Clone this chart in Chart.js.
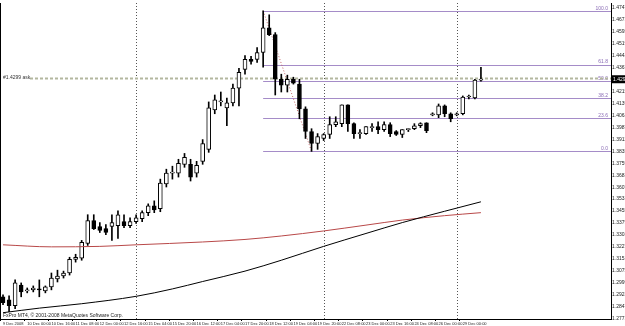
<!DOCTYPE html>
<html>
<head>
<meta charset="utf-8">
<script src="https://cdn.jsdelivr.net/npm/chart.js@4.4.0/dist/chart.umd.min.js"></script>
<style>
  html, body { margin: 0; padding: 0; background: #fff; }
  #wrap { width: 625px; height: 326px; }
</style>
</head>
<body>
<div id="wrap"><canvas id="chart-eur" width="625" height="326"></canvas></div>
<script>
// EURUSD H4, 9 Dec - 29 Dec 2008

// rotulos de tempo (um a cada 4 barras)
const timeLabels = ['9 Dec 2008', '10 Dec 00:00', '10 Dec 16:00', '11 Dec 08:00', '12 Dec 00:00',
  '12 Dec 16:00', '15 Dec 04:00', '15 Dec 20:00', '16 Dec 12:00', '17 Dec 04:00',
  '17 Dec 20:00', '18 Dec 12:00', '19 Dec 04:00', '19 Dec 20:00', '22 Dec 08:00',
  '23 Dec 00:00', '23 Dec 16:00', '24 Dec 08:00', '26 Dec 00:00', '29 Dec 00:00'];

const opens = [1.2911,1.2892,1.2854,1.2986,1.2948,1.2955,1.2961,1.2948,1.2974,1.3024,
  1.3043,1.3062,1.3149,1.3156,1.3250,1.3394,1.3357,1.3344,1.3357,1.3363,
  1.3388,1.3363,1.3388,1.3407,1.3445,1.3489,1.3470,1.3627,1.3696,1.3696,
  1.3752,1.3752,1.3696,1.3771,1.3847,1.4098,1.4148,1.4110,1.4142,1.4236,
  1.4355,1.4418,1.4418,1.4462,1.4619,1.4575,1.4292,1.4255,1.4292,1.4261,
  1.4104,1.3960,1.3884,1.3916,1.3941,1.4004,1.4010,1.4129,1.4010,1.3947,
  1.3947,1.3985,1.3991,1.3972,1.4004,1.3960,1.3941,1.3972,1.3978,1.3997,
  1.4016,1.4066,1.4066,1.4123,1.4073,1.4066,1.4073,1.4179,1.4173,1.4286];

const highs = [1.2923,1.2917,1.3018,1.2999,1.2967,1.2980,1.3018,1.2980,1.3062,1.3080,
  1.3074,1.3162,1.3181,1.3269,1.3432,1.3432,1.3382,1.3369,1.3432,1.3457,
  1.3432,1.3413,1.3432,1.3457,1.3501,1.3520,1.3658,1.3721,1.3740,1.3784,
  1.3821,1.3784,1.3771,1.3909,1.4148,1.4192,1.4211,1.4173,1.4261,1.4361,
  1.4443,1.4437,1.4493,1.4726,1.4701,1.4588,1.4324,1.4318,1.4305,1.4292,
  1.4117,1.3978,1.3947,1.3947,1.4054,1.4054,1.4129,1.4129,1.4016,1.3972,
  1.3991,1.4010,1.4022,1.4022,1.4016,1.3966,1.3972,1.3978,1.4010,1.4016,
  1.4016,1.4079,1.4135,1.4129,1.4079,1.4079,1.4186,1.4192,1.4292,1.4368];

const lows = [1.2861,1.2817,1.2835,1.2911,1.2936,1.2942,1.2911,1.2936,1.2955,1.3005,
  1.3030,1.3049,1.3131,1.3143,1.3237,1.3338,1.3319,1.3306,1.3269,1.3281,
  1.3350,1.3350,1.3376,1.3388,1.3426,1.3445,1.3451,1.3608,1.3658,1.3671,
  1.3733,1.3646,1.3671,1.3752,1.3828,1.4073,1.4123,1.3997,1.4123,1.4123,
  1.4324,1.4387,1.4399,1.4368,1.4569,1.4192,1.4211,1.4211,1.4261,1.4041,
  1.3916,1.3834,1.3847,1.3903,1.3916,1.3991,1.3991,1.3960,1.3916,1.3916,
  1.3941,1.3960,1.3947,1.3960,1.3928,1.3935,1.3922,1.3960,1.3972,1.3985,
  1.3953,1.4060,1.4048,1.4054,1.4022,1.4060,1.4066,1.4167,1.4167,1.4280];

const closes = [1.2873,1.2854,1.2999,1.2942,1.2955,1.2967,1.2955,1.2974,1.3030,1.3043,
  1.3062,1.3149,1.3162,1.3256,1.3394,1.3344,1.3332,1.3319,1.3382,1.3432,
  1.3363,1.3388,1.3413,1.3445,1.3489,1.3463,1.3633,1.3696,1.3702,1.3759,
  1.3796,1.3671,1.3746,1.3884,1.4110,1.4161,1.4154,1.4142,1.4236,1.4336,
  1.4418,1.4405,1.4462,1.4619,1.4575,1.4292,1.4255,1.4292,1.4267,1.4104,
  1.3960,1.3884,1.3928,1.3941,1.4004,1.4022,1.4129,1.4010,1.3947,1.3947,
  1.3991,1.3991,1.3972,1.4004,1.3947,1.3941,1.3972,1.3973,1.3997,1.4010,
  1.3966,1.4073,1.4123,1.4073,1.4041,1.4073,1.4179,1.4180,1.4286,1.4292];

// medias moveis (pontos lidos em algumas barras)
const slowMaBars = [0, 6, 13, 22, 28, 33, 40, 46, 53, 60, 66, 73, 79];
const slowMaValues = [1.2810, 1.2839, 1.2867, 1.2914, 1.2961, 1.3008, 1.3074, 1.3143, 1.3231, 1.3313, 1.3382, 1.3454, 1.3514];
const fastMaBars = [0, 8, 16, 22, 33, 40, 46, 53, 60, 66, 73, 79];
const fastMaValues = [1.3241, 1.3228, 1.3231, 1.3241, 1.3259, 1.3275, 1.3297, 1.3329, 1.3366, 1.3398, 1.3426, 1.3445];

// eixo de precos
const priceTicks = [1.4747, 1.4671, 1.4595, 1.4519, 1.4443, 1.4367, 1.4291, 1.4215, 1.4139,
  1.4063, 1.3987, 1.3911, 1.3835, 1.3759, 1.3683, 1.3607, 1.3531, 1.3455, 1.3379,
  1.3303, 1.3227, 1.3151, 1.3075, 1.2999, 1.2923, 1.2847, 1.2771];

// fibonacci: da maxima (barra 43) ate a minima (barra 51)
const fibHighBar = 43;
const fibLowBar = 51;
const fibLevels = [0, 23.6, 38.2, 50, 61.8, 100];
const separatorBars = [22, 53, 75];
const askPrice = 1.4299;

const TOTAL_SLOTS = 101;
const barCount = closes.length;
const categories = Array.from({ length: TOTAL_SLOTS }, (_, i) => i);

const bodies = [], wicks = [], bodyColors = [];
for (let i = 0; i < barCount; i++) {
    bodies.push([opens[i], closes[i]]);
    wicks.push([lows[i], highs[i]]);
    bodyColors.push(closes[i] >= opens[i] ? '#ffffff' : '#000000');
}

function sparseSeries(bars, values) {
    const arr = new Array(TOTAL_SLOTS).fill(null);
    bars.forEach((b, k) => { arr[b] = values[k]; });
    return arr;
}

const fibHigh = highs[fibHighBar];
const fibLow = lows[fibLowBar];

const overlayPlugin = {
    id: 'mt4Overlay',
    beforeDatasetsDraw(chart) {
        const { ctx, chartArea, scales } = chart;
        const xs = scales.x, ys = scales.y;
        ctx.save();
        // separadores de periodo
        ctx.strokeStyle = '#555';
        ctx.lineWidth = 1;
        ctx.setLineDash([1, 2]);
        separatorBars.forEach(b => {
            const x = Math.round(xs.getPixelForValue(b)) + 0.5;
            ctx.beginPath();
            ctx.moveTo(x, chartArea.top);
            ctx.lineTo(x, chartArea.bottom);
            ctx.stroke();
        });
        // linhas de fibonacci
        ctx.setLineDash([]);
        ctx.strokeStyle = '#a58cc8';
        const xStart = xs.getPixelForValue(fibHighBar);
        fibLevels.forEach(lv => {
            const y = Math.round(ys.getPixelForValue(fibLow + (fibHigh - fibLow) * lv / 100)) + 0.5;
            ctx.beginPath();
            ctx.moveTo(xStart, y);
            ctx.lineTo(chartArea.right, y);
            ctx.stroke();
        });
        ctx.fillStyle = '#8a6bb5';
        ctx.font = '5px "Liberation Sans"';
        ctx.textAlign = 'right';
        ctx.textBaseline = 'bottom';
        fibLevels.forEach(lv => {
            const y = ys.getPixelForValue(fibLow + (fibHigh - fibLow) * lv / 100);
            ctx.fillText(lv.toFixed(1), chartArea.right - 3, y);
        });
        // diagonal pontilhada
        ctx.strokeStyle = '#c06060';
        ctx.setLineDash([1, 2]);
        ctx.beginPath();
        ctx.moveTo(xs.getPixelForValue(fibHighBar), ys.getPixelForValue(fibHigh));
        ctx.lineTo(xs.getPixelForValue(fibLowBar), ys.getPixelForValue(fibLow));
        ctx.stroke();
        // linha ask
        const ya = Math.round(ys.getPixelForValue(askPrice)) + 0.5;
        ctx.strokeStyle = '#b3b79f';
        ctx.lineWidth = 2;
        ctx.setLineDash([3, 2]);
        ctx.beginPath();
        ctx.moveTo(chartArea.left + 30, ya);
        ctx.lineTo(chartArea.right, ya);
        ctx.stroke();
        ctx.setLineDash([]);
        ctx.fillStyle = '#333';
        ctx.textAlign = 'left';
        ctx.textBaseline = 'middle';
        ctx.fillText('#' + askPrice.toFixed(4) + ' ask', chartArea.left + 3, ya - 1);
        ctx.restore();
    },
    afterDraw(chart) {
        const { ctx, chartArea, scales } = chart;
        const ys = scales.y;
        ctx.save();
        // borda esquerda
        ctx.strokeStyle = '#000';
        ctx.lineWidth = 1;
        ctx.beginPath();
        ctx.moveTo(chartArea.left + 0.5, chartArea.top);
        ctx.lineTo(chartArea.left + 0.5, chartArea.bottom);
        ctx.stroke();
        // preco atual
        const last = closes[barCount - 1];
        const y = ys.getPixelForValue(last);
        ctx.fillStyle = '#000';
        ctx.fillRect(chartArea.right + 1, y - 4, 20, 8);
        ctx.fillStyle = '#fff';
        ctx.font = '5px "Liberation Sans"';
        ctx.textAlign = 'left';
        ctx.textBaseline = 'middle';
        ctx.fillText(last.toFixed(4), chartArea.right + 2, y);
        // copyright
        ctx.fillStyle = '#222';
        ctx.font = '5px "Liberation Sans"';
        ctx.textBaseline = 'bottom';
        ctx.fillText('FxPro MT4, \u00a9 2001-2008 MetaQuotes Software Corp.', chartArea.left + 3, chartArea.bottom - 1);
        ctx.restore();
    }
};

new Chart(document.getElementById('chart-eur').getContext('2d'), {
    type: 'bar',
    data: {
        labels: categories,
        datasets: [
            {
                type: 'line',
                data: sparseSeries(slowMaBars, slowMaValues),
                borderColor: '#000',
                borderWidth: 1,
                pointRadius: 0,
                spanGaps: true,
                cubicInterpolationMode: 'monotone',
                order: 0
            },
            {
                type: 'line',
                data: sparseSeries(fastMaBars, fastMaValues),
                borderColor: '#b84848',
                borderWidth: 1,
                pointRadius: 0,
                spanGaps: true,
                cubicInterpolationMode: 'monotone',
                order: 0
            },
            {
                data: bodies,
                backgroundColor: bodyColors,
                borderColor: '#000',
                borderWidth: 1,
                borderSkipped: false,
                barThickness: 4,
                minBarLength: 1,
                grouped: false,
                order: 1
            },
            {
                data: wicks,
                backgroundColor: '#000',
                borderWidth: 0,
                barThickness: 1,
                grouped: false,
                order: 2
            }
        ]
    },
    options: {
        responsive: false,
        animation: false,
        devicePixelRatio: 1,
        layout: { padding: 0 },
        plugins: { legend: { display: false }, tooltip: { enabled: false } },
        scales: {
            x: {
                type: 'category',
                offset: true,
                grid: {
                    drawOnChartArea: false,
                    tickLength: 2,
                    color: c => (c.index % 4 === 0 && c.index / 4 < timeLabels.length) ? '#000' : 'rgba(0,0,0,0)'
                },
                border: { display: true, color: '#000' },
                ticks: {
                    autoSkip: false,
                    maxRotation: 0,
                    minRotation: 0,
                    align: 'start',
                    padding: 0,
                    color: '#222',
                    font: { size: 4, family: 'Liberation Sans' },
                    callback: (v, i) => (i % 4 === 0 && timeLabels[i / 4]) ? timeLabels[i / 4] : ''
                },
                afterFit(scale) { scale.height = 7; }
            },
            y: {
                type: 'linear',
                position: 'right',
                min: 1.2770,
                max: 1.4776,
                grid: { drawOnChartArea: false, tickLength: 1, color: '#000' },
                border: { display: true, color: '#000' },
                ticks: {
                    padding: 0,
                    color: '#222',
                    font: { size: 5, family: 'Liberation Sans' },
                    callback: v => v.toFixed(4)
                },
                afterBuildTicks(scale) { scale.ticks = priceTicks.map(v => ({ value: v })); },
                afterFit(scale) { scale.width = 14; }
            }
        }
    },
    plugins: [overlayPlugin]
});
</script>
</body>
</html>
